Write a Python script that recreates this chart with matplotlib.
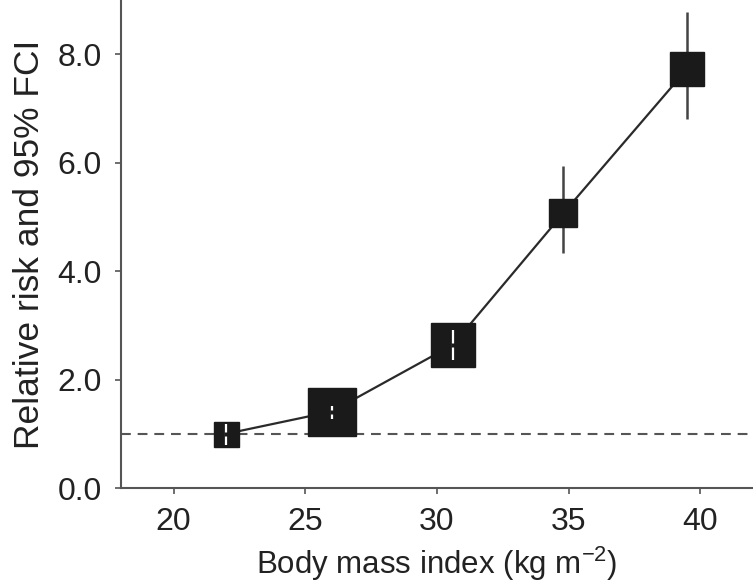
import matplotlib
matplotlib.use("Agg")
import matplotlib.pyplot as plt

bmi = [22.0, 26.0, 30.6, 34.8, 39.5]
rr = [1.00, 1.41, 2.64, 5.07, 7.73]
ci_lo = [0.80, 1.28, 2.36, 4.34, 6.81]
ci_hi = [1.18, 1.52, 2.91, 5.93, 8.78]
box_size = [18, 34, 32, 20, 25]  # marker size in points (weight)
xticks = [20, 25, 30, 35, 40]
yticks = [0.0, 2.0, 4.0, 6.0, 8.0]

plt.rcParams['font.family'] = ['Liberation Sans', 'DejaVu Sans']
plt.rcParams['mathtext.fontset'] = 'custom'
plt.rcParams['mathtext.rm'] = 'Liberation Sans'
FS = 23

fig = plt.figure(figsize=(7.53, 5.85), dpi=100)
ax = fig.add_axes([121/753, 97/585, 632/753, 488/585])
ax.set_xlim(18, 42)
ax.set_ylim(0, 9)

ax.axhline(1.0, color='#555555', lw=1.5, ls=(0, (4.7, 3.3)), zorder=1)
ax.plot(bmi, rr, color='#2a2a2a', lw=1.6, zorder=2)

fig.canvas.draw()
for x, y, lo, hi, s in zip(bmi, rr, ci_lo, ci_hi, box_size):
    ax.plot([x, x], [lo, hi], color='#444444', lw=1.8, zorder=3, solid_capstyle='butt')
    ax.plot([x], [y], marker='s', ms=s, color='#1a1a1a', mec='#1a1a1a', zorder=4)
    # interval hidden inside the box is shown in white
    span_px = ax.transData.transform((x, hi))[1] - ax.transData.transform((x, lo))[1]
    if span_px < s * fig.dpi / 72:
        ax.plot([x, x], [lo, hi], color='white', lw=1.6, zorder=5, solid_capstyle='butt')
        ax.plot([x], [y], ls='none', marker='s', ms=2.5, color='#1a1a1a', mec='none', zorder=6)

ax.set_xticks(xticks)
ax.set_xticklabels([str(t) for t in xticks])
ax.set_yticks(yticks)
ax.set_yticklabels([f"{t:.1f}" for t in yticks])

for side in ['top', 'right']:
    ax.spines[side].set_visible(False)
for side in ['left', 'bottom']:
    ax.spines[side].set_color('#555555')
    ax.spines[side].set_linewidth(1.5)

ax.tick_params(axis='both', direction='out', length=4, width=1.2, color='#555555',
               labelsize=FS, labelcolor='#222222')
ax.tick_params(axis='y', pad=10)
ax.tick_params(axis='x', pad=10)

ax.set_xlabel('Body mass index (kg m$^{\\mathregular{-2}}$)', fontsize=22.5, color='#222222', labelpad=5)
ax.set_ylabel('Relative risk and 95% FCI', fontsize=25.5, color='#222222', labelpad=8)

fig.savefig('out.png', dpi=100)
